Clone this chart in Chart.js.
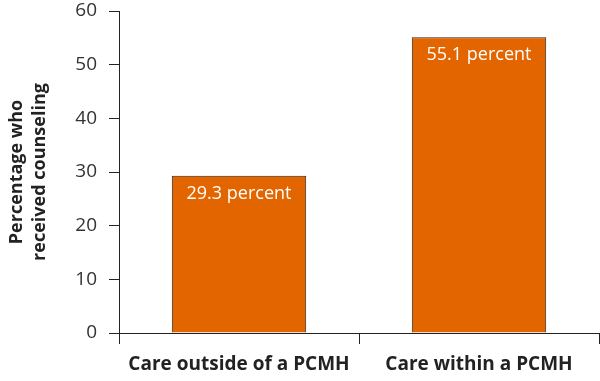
<!DOCTYPE html>
<html>
<head>
<meta charset="utf-8">
<script src="https://cdn.jsdelivr.net/npm/chart.js"></script>
<style>
  html, body { margin: 0; padding: 0; background: #fff; }
  #wrap { width: 600px; height: 381px; }
</style>
</head>
<body>
<div id="wrap"><canvas id="grafik"></canvas></div>
<script>
const categories = ["Care outside of a PCMH", "Care within a PCMH"];
const values = [29.3, 55.1];
const valueLabels = ["29.3 percent", "55.1 percent"];
const yTitle = ["Percentage who", "received counseling"];

const fontFam = "'Open Sans', 'Noto Sans', sans-serif";

// tulis label di dalam batang
const barLabels = {
  id: "barLabels",
  afterDatasetsDraw(chart) {
    const ctx = chart.ctx;
    const meta = chart.getDatasetMeta(0);
    ctx.save();
    ctx.fillStyle = "#fff";
    ctx.font = "18px " + fontFam;
    ctx.textAlign = "center";
    ctx.textBaseline = "middle";
    meta.data.forEach((bar, i) => {
      ctx.fillText(valueLabels[i], bar.x, bar.y + 18);
    });
    ctx.restore();
  }
};

const crt = new Chart(document.getElementById("grafik"), {
  type: "bar",
  data: {
    labels: categories,
    datasets: [{
      data: values,
      backgroundColor: "#E36500",
      borderColor: "#2a2018",
      borderWidth: 1,
      borderSkipped: "bottom",
      categoryPercentage: 0.56,
      barPercentage: 1.0
    }]
  },
  options: {
    responsive: true,
    maintainAspectRatio: false,
    animation: false,
    layout: { padding: { top: 11, right: 1, left: 0, bottom: 0 } },
    scales: {
      y: {
        min: 0,
        max: 60,
        ticks: { stepSize: 10, color: "#333", font: { size: 19, family: fontFam }, padding: 12 },
        grid: { drawOnChartArea: false, drawTicks: true, tickLength: 10, color: "#222" },
        border: { display: true, color: "#222", width: 1 },
        title: {
          display: true,
          text: yTitle,
          color: "#222",
          font: { size: 18, weight: "bold", family: fontFam, lineHeight: 1.25 },
          padding: { top: 6, bottom: 4 }
        },
        afterFit(scale) {
          scale.width = 119;
          scale.paddingTop = 0;
          scale.paddingBottom = 0;
        }
      },
      x: {
        ticks: { color: "#222", font: { size: 19, weight: "bold", family: fontFam }, padding: 9 },
        grid: { offset: true, drawOnChartArea: false, drawTicks: true, tickLength: 11, color: "#222" },
        border: { display: true, color: "#222", width: 1 },
        afterFit(scale) { scale.height = 48; }
      }
    },
    plugins: {
      legend: { display: false },
      tooltip: { enabled: false }
    }
  },
  plugins: [barLabels]
});
</script>
</body>
</html>
